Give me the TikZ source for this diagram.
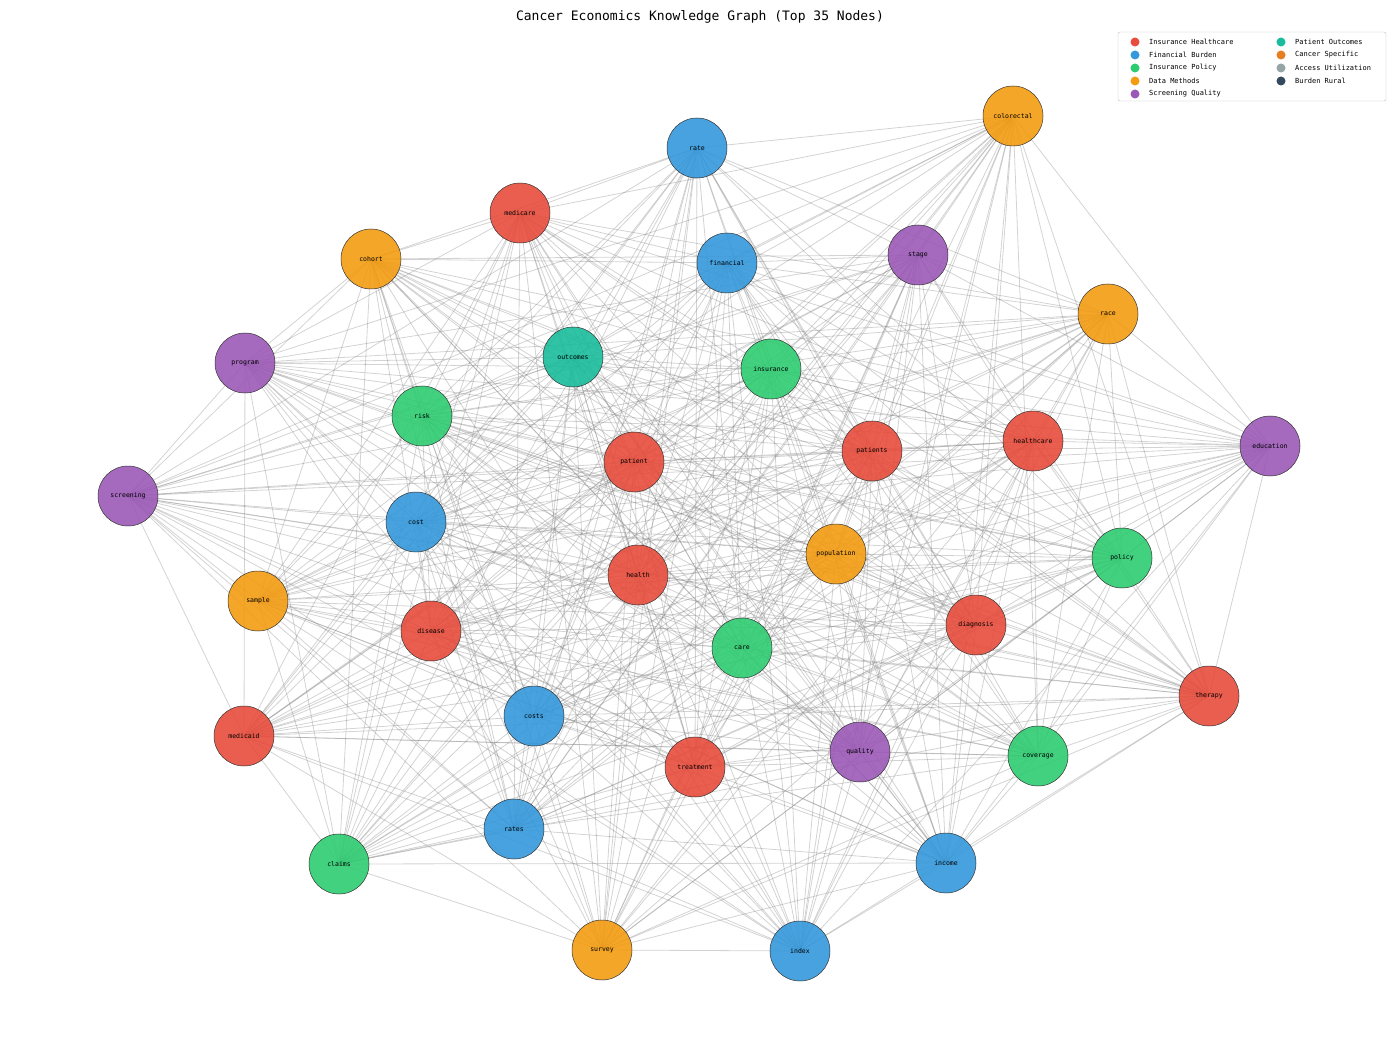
\documentclass[tikz,border=0pt]{standalone}
\usepackage{fontspec}
\setmainfont{DejaVu Sans Mono}
\usetikzlibrary{backgrounds}
\definecolor{cR}{HTML}{E74C3C}
\definecolor{cB}{HTML}{3498DB}
\definecolor{cG}{HTML}{2ECC71}
\definecolor{cO}{HTML}{F39C12}
\definecolor{cP}{HTML}{9B59B6}
\definecolor{cT}{HTML}{1ABC9C}
\definecolor{cO2}{HTML}{E67E22}
\definecolor{cGr}{HTML}{95A5A6}
\definecolor{cD}{HTML}{34495E}
\tikzset{
  kg/.style={circle,minimum size=60pt,inner sep=0pt,draw=black!80,line width=0.5pt,fill opacity=0.9,text opacity=1,font=\fontsize{6.5}{7}\selectfont},
  edge/.style={draw=gray,line width=0.8pt,opacity=0.35},
  legdot/.style={circle,minimum size=9pt,inner sep=0pt},
  legtxt/.style={anchor=west,font=\fontsize{7}{8}\selectfont,inner sep=0pt}
}
\begin{document}
\begin{tikzpicture}[x=1pt,y=-1pt]
\useasboundingbox (0,0) rectangle (1400,1048);
\node[font=\fontsize{13}{14}\selectfont] (title) at (700,17) {Cancer Economics Knowledge Graph (Top 35 Nodes)};
\foreach \n/\x/\y/\c in {colorectal/1013/116/cO,rate/697/148/cB,medicare/520/213/cR,cohort/371/259/cO,financial/727/263/cB,stage/918/255/cP,race/1108/314/cO,program/245/363/cP,outcomes/573/357/cT,insurance/771/369/cG,risk/422/416/cG,patient/634/462/cR,patients/872/451/cR,healthcare/1033/441/cR,education/1270/446/cP,screening/128/496/cP,cost/416/522/cB,population/836/554/cO,policy/1122/558/cG,health/638/575/cR,sample/258/601/cO,disease/431/631/cR,diagnosis/976/625/cR,care/742/648/cG,therapy/1209/696/cR,costs/534/716/cB,medicaid/244/736/cR,quality/860/752/cP,coverage/1038/756/cG,treatment/695/767/cR,rates/514/829/cB,claims/339/864/cG,income/946/863/cB,survey/602/950/cO,index/800/951/cB}
  \node[kg,fill=\c] (\n) at (\x,\y) {\n};
\begin{pgfonlayer}{background}
\foreach \a [count=\i] in {colorectal,rate,medicare,cohort,financial,stage,race,program,outcomes,insurance,risk,patient,patients,healthcare,education,screening,cost,population,policy,health,sample,disease,diagnosis,care,therapy,costs,medicaid,quality,coverage,treatment,rates,claims,income,survey,index}{
  \foreach \b [count=\j] in {colorectal,rate,medicare,cohort,financial,stage,race,program,outcomes,insurance,risk,patient,patients,healthcare,education,screening,cost,population,policy,health,sample,disease,diagnosis,care,therapy,costs,medicaid,quality,coverage,treatment,rates,claims,income,survey,index}{
    \ifnum\j>\i
      \pgfmathtruncatemacro{\k}{mod(\i*7+\j*13,10)}
      \ifnum\k<8 \draw[edge] (\a.center) -- (\b.center); \fi
    \fi
  }
}
\end{pgfonlayer}
\draw[rounded corners=2pt,draw=black!25,fill=white] (1118,32) rectangle (1386,101);
\foreach \t/\c/\x/\y [count=\m] in {Insurance Healthcare/cR/1135/42,Financial Burden/cB/1135/55,Insurance Policy/cG/1135/68,Data Methods/cO/1135/81,Screening Quality/cP/1135/94,Patient Outcomes/cT/1281/42,Cancer Specific/cO2/1281/55,Access Utilization/cGr/1281/68,Burden Rural/cD/1281/81}{
  \node[legdot,fill=\c] (ld\m) at (\x,\y) {};
  \node[legtxt] (lt\m) at (\x+14,\y) {\t};
}
\end{tikzpicture}
\end{document}
